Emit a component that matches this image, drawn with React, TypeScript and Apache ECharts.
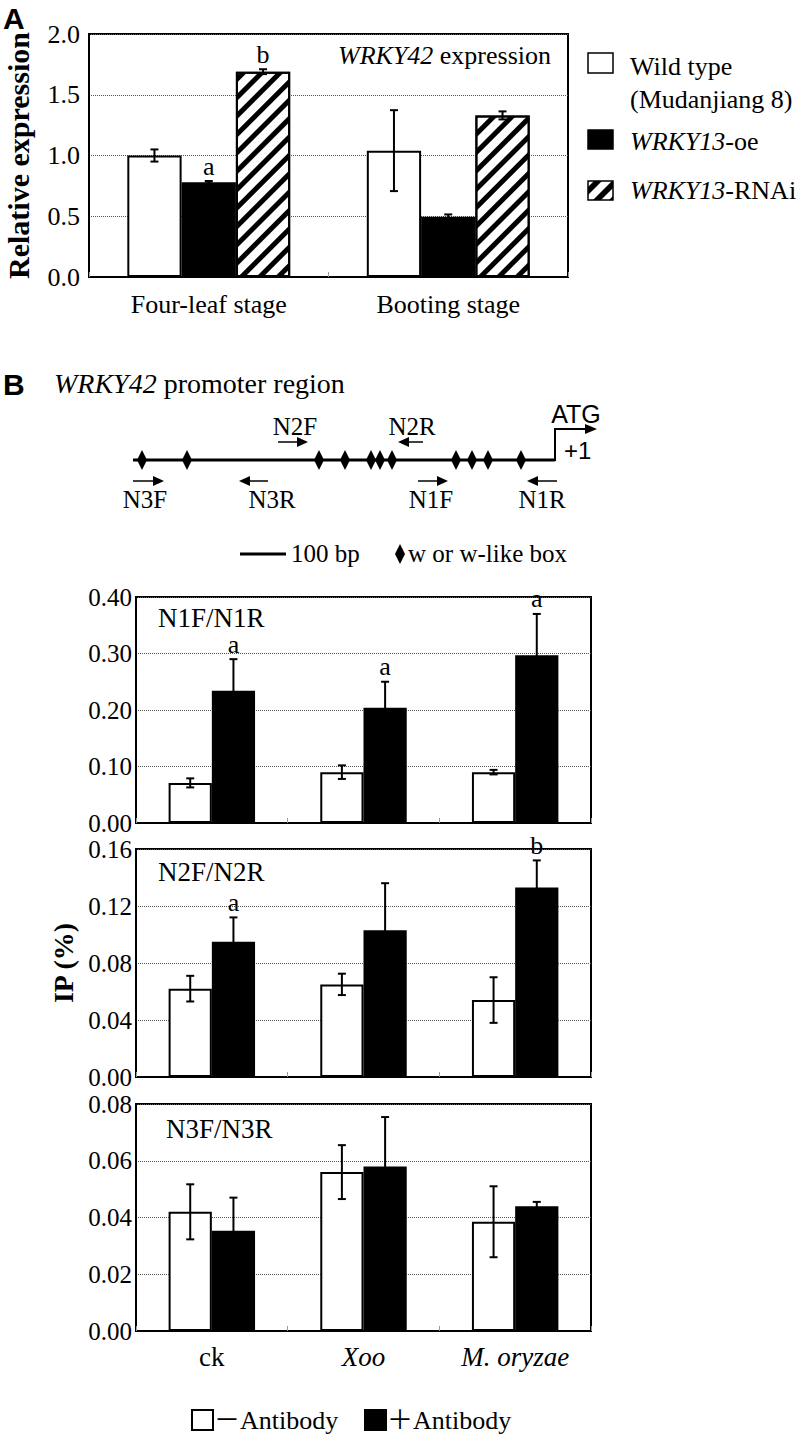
import React, { useEffect, useRef } from "react";
import * as echarts from "echarts";

// ---------- Panel A data ----------
const stages = ["Four-leaf stage", "Booting stage"];
const wtExpr = [1.0, 1.04];
const wtExprErr = [0.05, 0.333];
const oeExpr = [0.78, 0.495];
const oeExprErr = [0.01, 0.02];
const rnaiExpr = [1.69, 1.33];
const rnaiExprErr = [0.02, 0.033];
const wtLetters = ["", ""];
const oeLetters = ["a", ""];
const rnaiLetters = ["b", ""];
const exprTicks = { min: 0, max: 2, interval: 0.5 };

// ---------- Panel B data ----------
const treatments = ["ck", "Xoo", "M. oryzae"];
const n1Minus = [0.071, 0.09, 0.09];
const n1MinusErr = [0.008, 0.012, 0.004];
const n1Plus = [0.234, 0.204, 0.297];
const n1PlusErr = [0.056, 0.046, 0.073];
const n1Letters = ["a", "a", "a"];

const n2Minus = [0.062, 0.065, 0.054];
const n2MinusErr = [0.009, 0.0075, 0.016];
const n2Plus = [0.095, 0.103, 0.133];
const n2PlusErr = [0.017, 0.033, 0.019];
const n2Letters = ["a", "", "b"];

const n3Minus = [0.042, 0.056, 0.0385];
const n3MinusErr = [0.0097, 0.0095, 0.0125];
const n3Plus = [0.0353, 0.058, 0.044];
const n3PlusErr = [0.0117, 0.0174, 0.0015];
const n3Letters = ["", "", ""];

const ipTicks = [
  { min: 0, max: 0.4, interval: 0.1 },
  { min: 0, max: 0.16, interval: 0.04 },
  { min: 0, max: 0.08, interval: 0.02 },
];
const panelNames = ["N1F/N1R", "N2F/N2R", "N3F/N3R"];

// promoter diagram (schematic positions)
const boxX = [142, 187, 319, 345, 371, 380, 392, 456, 472, 488, 521];

const SERIF = '"Liberation Serif", "Times New Roman", serif';
const SANS = '"Liberation Sans", Arial, sans-serif';

function errorSeries(
  xAxisIndex: number,
  groups: { vals: number[]; errs: number[]; letters: string[] }[],
  gapFrac: number
) {
  const n = groups.length;
  const data: number[][] = [];
  const labels: string[] = [];
  groups.forEach((g, s) =>
    g.vals.forEach((v, c) => {
      data.push([c, v, g.errs[c], s]);
      labels.push(g.letters[c]);
    })
  );
  return {
    type: "custom",
    xAxisIndex,
    yAxisIndex: xAxisIndex,
    z: 5,
    silent: true,
    data,
    encode: { x: 0, y: 1 },
    renderItem: (params: any, api: any) => {
      const c = api.value(0);
      const v = api.value(1);
      const e = api.value(2);
      const s = api.value(3);
      const band = api.size([1, 0])[0];
      const bw = (band * (1 - gapFrac)) / n;
      const x = api.coord([c, v])[0] + (s - (n - 1) / 2) * bw;
      const yt = api.coord([c, v + e])[1];
      const yb = api.coord([c, v - e])[1];
      const cap = 4;
      const st = { stroke: "#000", lineWidth: 2 };
      const children: any[] = [
        { type: "line", shape: { x1: x, y1: yt, x2: x, y2: yb }, style: st },
        { type: "line", shape: { x1: x - cap, y1: yt, x2: x + cap, y2: yt }, style: st },
        { type: "line", shape: { x1: x - cap, y1: yb, x2: x + cap, y2: yb }, style: st },
      ];
      const lab = labels[params.dataIndex];
      if (lab) {
        children.push({
          type: "text",
          x,
          y: yt - 6,
          style: {
            text: lab,
            font: `26px ${SERIF}`,
            lineHeight: 18,
            fill: "#000",
            textAlign: "center",
            textVerticalAlign: "bottom",
            align: "center",
            verticalAlign: "bottom",
          },
        });
      }
      return { type: "group", children };
    },
  };
}

function txt(text: string, x: number, y: number, font: string, align = "left", extra: any = {}) {
  return {
    type: "text",
    x,
    y,
    style: {
      text,
      font,
      fill: "#000",
      textAlign: align,
      textVerticalAlign: "middle",
      align,
      verticalAlign: "middle",
      ...extra,
    },
  };
}

function richTxt(text: string, x: number, y: number, size: number) {
  return txt(text, x, y, `${size}px ${SERIF}`, "left", {
    rich: {
      i: { fontStyle: "italic", fontSize: size, fontFamily: SERIF },
      n: { fontSize: size, fontFamily: SERIF },
    },
  });
}

function primer(x1: number, x2: number, y: number) {
  const dir = Math.sign(x2 - x1);
  return [
    { type: "line", shape: { x1, y1: y, x2: x2 - dir * 8, y2: y }, style: { stroke: "#000", lineWidth: 1.5 } },
    {
      type: "polygon",
      shape: { points: [[x2, y], [x2 - dir * 11, y - 5], [x2 - dir * 11, y + 5]] },
      style: { fill: "#000" },
    },
  ];
}

function diamond(x: number, y: number) {
  return {
    type: "polygon",
    shape: { points: [[x, y - 10], [x + 5, y], [x, y + 10], [x - 5, y]] },
    style: { fill: "#000" },
  };
}

export default function App() {
  const ref = useRef<HTMLDivElement>(null);

  useEffect(() => {
    if (!ref.current) return;
    const chart = echarts.init(ref.current, undefined, { renderer: "svg" });

    const gridsB = [
      { top: 597, height: 226 },
      { top: 849, height: 228 },
      { top: 1104, height: 227 },
    ];
    const gridBorder = {
      show: true,
      borderColor: "#000",
      borderWidth: 2,
      backgroundColor: "transparent",
      containLabel: false,
      outerBoundsMode: "none",
    };
    const grids = [
      { left: 89, top: 34, width: 479, height: 243, ...gridBorder },
      ...gridsB.map((g) => ({ left: 136, width: 455, ...g, ...gridBorder })),
    ];

    const axisLine = { show: true, lineStyle: { color: "#000", width: 2 } };
    const splitLine = { show: true, lineStyle: { color: "#555", width: 1, type: "dotted" } };
    const xTick = { show: true, inside: true, length: 5, lineStyle: { color: "#999", width: 1 } };

    const xAxes: any[] = [
      {
        type: "category",
        gridIndex: 0,
        data: stages,
        axisLine,
        axisTick: xTick,
        axisLabel: { show: true, interval: 0, margin: 14, fontFamily: SERIF, fontSize: 26, color: "#000" },
      },
      ...[0, 1, 2].map((i) => ({
        type: "category",
        gridIndex: i + 1,
        data: treatments,
        axisLine,
        axisTick: xTick,
        axisLabel: {
          show: i === 2,
          interval: 0,
          margin: 12,
          fontFamily: SERIF,
          fontSize: 27,
          color: "#000",
          formatter: (v: string) => (v === "ck" ? `{n|${v}}` : `{i|${v}}`),
          rich: {
            n: { fontFamily: SERIF, fontSize: 27, color: "#000" },
            i: { fontFamily: SERIF, fontSize: 27, fontStyle: "italic", color: "#000" },
          },
        },
      })),
    ];

    const yAxes: any[] = [
      {
        type: "value",
        gridIndex: 0,
        ...exprTicks,
        axisLine,
        axisTick: { show: false },
        splitLine,
        axisLabel: {
          margin: 9,
          fontFamily: SERIF,
          fontSize: 26,
          color: "#000",
          formatter: (v: number) => v.toFixed(1),
        },
        name: "Relative expression",
        nameLocation: "middle",
        nameRotate: 90,
        nameGap: 56,
        nameTextStyle: { fontFamily: SERIF, fontSize: 30, fontWeight: "bold", color: "#000" },
      },
      ...[0, 1, 2].map((i) => ({
        type: "value",
        gridIndex: i + 1,
        ...ipTicks[i],
        axisLine,
        axisTick: { show: false },
        splitLine,
        axisLabel: {
          margin: 4,
          fontFamily: SERIF,
          fontSize: 25,
          color: "#000",
          formatter: (v: number) => v.toFixed(2),
        },
        ...(i === 1
          ? {
              name: "IP (%)",
              nameLocation: "middle",
              nameRotate: 90,
              nameGap: 58,
              nameTextStyle: { fontFamily: SERIF, fontSize: 28, fontWeight: "bold", color: "#000" },
            }
          : {}),
      })),
    ];

    const white = { color: "#fff", borderColor: "#000", borderWidth: 2 };
    const black = { color: "#000", borderColor: "#000", borderWidth: 2 };
    const hatched = {
      color: "#fff",
      borderColor: "#000",
      borderWidth: 2,
      decal: {
        symbol: "rect",
        symbolSize: 1,
        color: "#000",
        dashArrayX: [1, 0],
        dashArrayY: [5, 8],
        rotation: -Math.PI / 4,
      },
    };

    const gapA = 0.32;
    const gapB = 0.43;
    const series: any[] = [
      { type: "bar", name: "Wild type", xAxisIndex: 0, yAxisIndex: 0, data: wtExpr, itemStyle: white, barGap: "0%", barCategoryGap: "32%" },
      { type: "bar", name: "WRKY13-oe", xAxisIndex: 0, yAxisIndex: 0, data: oeExpr, itemStyle: black, barGap: "0%", barCategoryGap: "32%" },
      { type: "bar", name: "WRKY13-RNAi", xAxisIndex: 0, yAxisIndex: 0, data: rnaiExpr, itemStyle: hatched, barGap: "0%", barCategoryGap: "32%" },
      errorSeries(
        0,
        [
          { vals: wtExpr, errs: wtExprErr, letters: wtLetters },
          { vals: oeExpr, errs: oeExprErr, letters: oeLetters },
          { vals: rnaiExpr, errs: rnaiExprErr, letters: rnaiLetters },
        ],
        gapA
      ),
    ];

    const panelsB = [
      { minus: n1Minus, minusErr: n1MinusErr, plus: n1Plus, plusErr: n1PlusErr, letters: n1Letters },
      { minus: n2Minus, minusErr: n2MinusErr, plus: n2Plus, plusErr: n2PlusErr, letters: n2Letters },
      { minus: n3Minus, minusErr: n3MinusErr, plus: n3Plus, plusErr: n3PlusErr, letters: n3Letters },
    ];
    panelsB.forEach((p, i) => {
      const ax = i + 1;
      series.push(
        { type: "bar", name: "-Antibody", xAxisIndex: ax, yAxisIndex: ax, data: p.minus, itemStyle: white, barGap: "0%", barCategoryGap: "43%" },
        { type: "bar", name: "+Antibody", xAxisIndex: ax, yAxisIndex: ax, data: p.plus, itemStyle: black, barGap: "0%", barCategoryGap: "43%" },
        errorSeries(
          ax,
          [
            { vals: p.minus, errs: p.minusErr, letters: ["", "", ""] },
            { vals: p.plus, errs: p.plusErr, letters: p.letters },
          ],
          gapB
        )
      );
    });

    const serif = (s: number) => `${s}px ${SERIF}`;
    const graphic: any[] = [
      // panel letters
      txt("A", 3, 18, `bold 30px ${SANS}`),
      txt("B", 3, 384, `bold 30px ${SANS}`),
      // panel A in-plot title
      richTxt("{i|WRKY42}{n| expression}", 338, 55, 26),
      // panel A legend
      { type: "rect", shape: { x: 588, y: 53, width: 25, height: 20 }, style: { fill: "#fff", stroke: "#000", lineWidth: 1.5 } },
      txt("Wild type", 630, 66, serif(26)),
      txt("(Mudanjiang 8)", 630, 99, serif(26)),
      { type: "rect", shape: { x: 588, y: 130, width: 25, height: 19 }, style: { fill: "#000", stroke: "#000", lineWidth: 1.5 } },
      richTxt("{i|WRKY13}{n|-oe}", 630, 141, 26),
      { type: "rect", shape: { x: 588, y: 181, width: 25, height: 19 }, style: { fill: "#fff", stroke: "none" } },
      { type: "polygon", shape: { points: [[594, 181], [602, 181], [588, 195], [588, 187]] }, style: { fill: "#000" } },
      { type: "polygon", shape: { points: [[612, 181], [613, 181], [613, 188], [601, 200], [593, 200]] }, style: { fill: "#000" } },
      { type: "polygon", shape: { points: [[613, 196], [613, 200], [609, 200]] }, style: { fill: "#000" } },
      { type: "rect", shape: { x: 588, y: 181, width: 25, height: 19 }, style: { fill: "none", stroke: "#000", lineWidth: 1.5 } },
      richTxt("{i|WRKY13}{n|-RNAi}", 630, 190, 26),
      // panel B header
      richTxt("{i|WRKY42}{n| promoter region}", 54, 383, 28),
      // promoter line
      { type: "line", shape: { x1: 133, y1: 460, x2: 555, y2: 460 }, style: { stroke: "#000", lineWidth: 3 } },
      { type: "polyline", shape: { points: [[555, 461], [555, 429], [587, 429]] }, style: { stroke: "#000", lineWidth: 2, fill: "none" } },
      { type: "polygon", shape: { points: [[597, 429], [585, 424], [585, 434]] }, style: { fill: "#000" } },
      txt("ATG", 576, 414, `25px ${SANS}`, "center"),
      txt("+1", 564, 450, `24px ${SANS}`),
      ...boxX.map((x) => diamond(x, 460)),
      // primers
      ...primer(278, 308, 442),
      txt("N2F", 295, 426, serif(25), "center"),
      ...primer(423, 398, 442),
      txt("N2R", 412, 426, serif(25), "center"),
      ...primer(133, 164, 481),
      txt("N3F", 145, 499, serif(25), "center"),
      ...primer(268, 239, 481),
      txt("N3R", 272, 499, serif(25), "center"),
      ...primer(418, 448, 481),
      txt("N1F", 431, 499, serif(25), "center"),
      ...primer(557, 527, 481),
      txt("N1R", 542, 499, serif(25), "center"),
      // scale / key
      { type: "line", shape: { x1: 240, y1: 554, x2: 286, y2: 554 }, style: { stroke: "#000", lineWidth: 3 } },
      txt("100 bp", 291, 553, serif(25)),
      diamond(400, 554),
      txt("w or w-like box", 408, 553, serif(25)),
      // panel names
      txt(panelNames[0], 158, 618, serif(27)),
      txt(panelNames[1], 158, 872, serif(27)),
      txt(panelNames[2], 166, 1129, serif(27)),
      // bottom legend
      { type: "rect", shape: { x: 192, y: 1410, width: 21, height: 20 }, style: { fill: "#fff", stroke: "#000", lineWidth: 2 } },
      txt("－Antibody", 214, 1420, `26px ${SERIF}, "Noto Sans CJK SC"`),
      { type: "rect", shape: { x: 365, y: 1410, width: 21, height: 20 }, style: { fill: "#000", stroke: "#000", lineWidth: 2 } },
      txt("＋Antibody", 387, 1420, `26px ${SERIF}, "Noto Sans CJK SC"`),
    ];

    chart.setOption({
      animation: false,
      backgroundColor: "#fff",
      grid: grids,
      xAxis: xAxes,
      yAxis: yAxes,
      series,
      graphic,
    });

    return () => chart.dispose();
  }, []);

  return (
    <div
      ref={ref}
      style={{ position: "absolute", left: 0, top: 0, width: 797, height: 1438, background: "#fff" }}
    />
  );
}
